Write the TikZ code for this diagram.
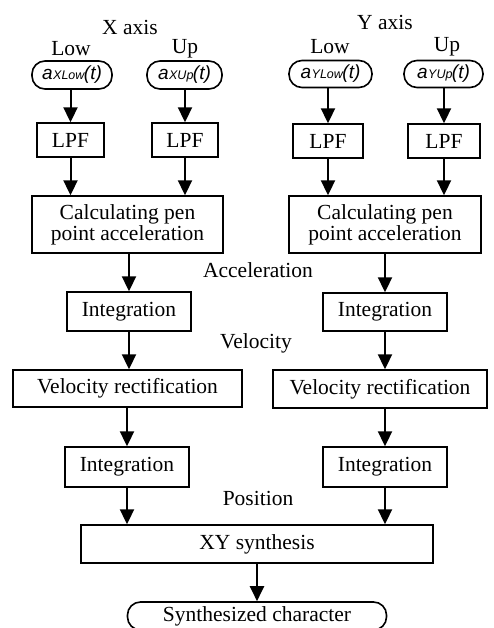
\documentclass[tikz,border=0pt]{standalone}
\usepackage{fontspec}
\setmainfont{Liberation Serif}
\setsansfont{Liberation Sans}
\usetikzlibrary{arrows.meta}
\newcommand{\sig}[2]{{\sffamily\itshape\fontsize{19}{19}\selectfont a\kern0.5pt{\fontsize{12.5}{12.5}\selectfont #1#2}\kern-0.5pt(t)}}
\begin{document}
\begin{tikzpicture}[x=1pt,y=-1pt,
  font=\fontsize{21.5}{21}\selectfont,
  blk/.style={draw,line width=1.4pt,minimum width=#1,inner sep=0pt,align=center},
  term/.style={draw,line width=1.6pt,rounded corners=13pt,inner sep=0pt},
  lbl/.style={inner sep=0pt},
  arr/.style={line width=2pt,-{Triangle[length=15pt,width=14pt]}}]
\useasboundingbox (0,0) rectangle (493,628);
\begin{scope}
\clip (0,0) rectangle (493,628);
% axis labels
\node[lbl] (xaxis) at (130,27) {X axis};
\node[lbl] (xlowl) at (71,49) {Low};
\node[lbl] (xupl) at (185,49) {Up};
\node[lbl] (yaxis) at (385,22) {Y axis};
\node[lbl] (ylowl) at (330,47) {Low};
\node[lbl] (yupl) at (447,47) {Up};
% inputs
\node[term,minimum width=80pt,minimum height=28pt] (xlowin) at (72,75) {\sig{X}{Low}};
\node[term,minimum width=75pt,minimum height=28pt] (xupin) at (184.5,75) {\sig{X}{Up}};
\node[term,minimum width=83pt,minimum height=27pt] (ylowin) at (330.5,74) {\sig{Y}{Low}};
\node[term,minimum width=79pt,minimum height=27pt] (yupin) at (443.5,74) {\sig{Y}{Up}};
% LPF
\node[blk=67pt,minimum height=34pt] (lpf1) at (70.5,140) {LPF};
\node[blk=66pt,minimum height=34pt] (lpf2) at (185,140) {LPF};
\node[blk=70pt,minimum height=34pt] (lpf3) at (328,141) {LPF};
\node[blk=72pt,minimum height=34pt] (lpf4) at (444,141) {LPF};
% calc
\node[blk=191pt,minimum height=57pt] (calcx) at (127.5,224.5) {Calculating pen\\point acceleration};
\node[blk=192pt,minimum height=57pt] (calcy) at (385,224.5) {Calculating pen\\point acceleration};
% integration 1
\node[blk=124pt,minimum height=39pt] (intx1) at (129,311.5) {Integration};
\node[blk=124pt,minimum height=38pt] (inty1) at (385,312) {Integration};
% velocity rectification
\node[blk=229pt,minimum height=37pt] (velx) at (127.5,388.5) {Velocity rectification};
\node[blk=214pt,minimum height=38pt] (vely) at (380,389) {Velocity rectification};
% integration 2
\node[blk=124pt,minimum height=40pt] (intx2) at (127,467) {Integration};
\node[blk=124pt,minimum height=40pt] (inty2) at (385,467) {Integration};
% XY synthesis
\node[blk=352pt,minimum height=38pt] (xy) at (257,544) {XY synthesis};
\node[term,minimum width=259pt,minimum height=28pt] (out) at (257,616) {Synthesized character};
% middle labels
\node[lbl] (acc) at (258,270) {Acceleration};
\node[lbl] (vel) at (256,343) {Velocity};
\node[lbl] (pos) at (258,498) {Position};
% arrows
\draw[arr] (xlowin.south -| lpf1) -- (lpf1.north);
\draw[arr] (xupin.south -| lpf2) -- (lpf2.north);
\draw[arr] (ylowin.south -| lpf3) -- (lpf3.north);
\draw[arr] (yupin.south -| lpf4) -- (lpf4.north);
\draw[arr] (lpf1.south) -- (lpf1.south |- calcx.north);
\draw[arr] (lpf2.south) -- (lpf2.south |- calcx.north);
\draw[arr] (lpf3.south) -- (lpf3.south |- calcy.north);
\draw[arr] (lpf4.south) -- (lpf4.south |- calcy.north);
\draw[arr] (calcx.south -| intx1) -- (intx1.north);
\draw[arr] (calcy.south) -- (inty1.north);
\draw[arr] (intx1.south) -- (intx1.south |- velx.north);
\draw[arr] (inty1.south) -- (inty1.south |- vely.north);
\draw[arr] (velx.south -| intx2) -- (intx2.north);
\draw[arr] (vely.south -| inty2) -- (inty2.north);
\draw[arr] (intx2.south) -- (intx2.south |- xy.north);
\draw[arr] (inty2.south) -- (inty2.south |- xy.north);
\draw[arr] (xy.south) -- (out.north);
\end{scope}
\end{tikzpicture}
\end{document}
